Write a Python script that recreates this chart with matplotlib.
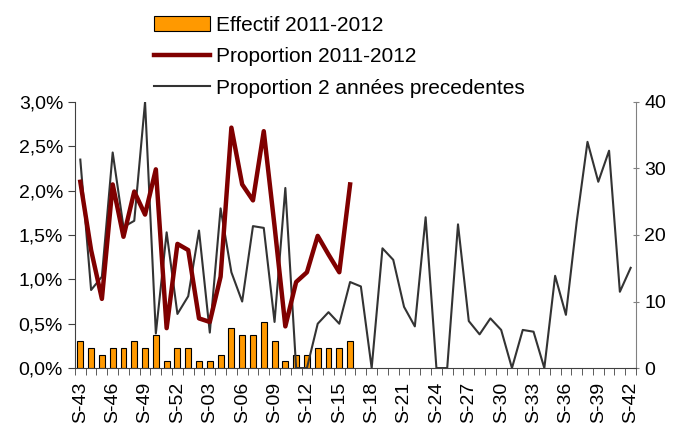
import numpy as np
import matplotlib.pyplot as plt
from matplotlib.ticker import FuncFormatter

plt.rcParams['font.family'] = ['Liberation Sans', 'DejaVu Sans']

# semaines S-43 (2011) ... S-42 (2012)
semaines = ['S-%02d' % s for s in list(range(43, 53)) + list(range(1, 43))]

# effectifs 2011-2012 (axe droit)
effectif = [4, 3, 2, 3, 3, 4, 3, 5, 1, 3, 3, 1, 1, 2, 6, 5, 5, 7, 4, 1,
            2, 2, 3, 3, 3, 4]

# proportion 2011-2012 (%)
prop_2011 = [2.10, 1.33, 0.78, 2.07, 1.48, 1.99, 1.73, 2.24, 0.45, 1.40,
             1.33, 0.56, 0.52, 1.03, 2.71, 2.07, 1.89, 2.67, 1.60, 0.47,
             0.97, 1.08, 1.49, 1.28, 1.08, 2.07]

# proportion des 2 annees precedentes (%)
prop_prec = [2.35, 0.88, 1.03, 2.43, 1.59, 1.66, 3.00, 0.39, 1.53, 0.61,
             0.81, 1.55, 0.40, 1.80, 1.08, 0.75, 1.60, 1.58, 0.52, 2.03,
             0.00, 0.00, 0.50, 0.63, 0.50, 0.97, 0.92, 0.00, 1.35, 1.22,
             0.69, 0.47, 1.70, 0.00, 0.00, 1.62, 0.53, 0.38, 0.56, 0.43,
             0.00, 0.43, 0.41, 0.00, 1.04, 0.60, 1.65, 2.55, 2.10, 2.45,
             0.86, 1.13]

x = np.arange(len(semaines))

fig = plt.figure(figsize=(6.81, 4.30), dpi=100)
ax = fig.add_axes([0.110, 0.144, 0.824, 0.619])
ax2 = ax.twinx()

# barres sur l'axe droit, lignes par dessus
b = ax2.bar(x[:len(effectif)], effectif, width=0.55, color='#FF9900',
            edgecolor='black', linewidth=0.8, label='Effectif 2011-2012')
ax2.set_ylim(0, 40)
ax2.set_yticks([0, 10, 20, 30, 40])

l1, = ax.plot(x[:len(prop_2011)], prop_2011, color='#800000', lw=3.2,
              label='Proportion 2011-2012', zorder=3)
l2, = ax.plot(x, prop_prec, color='#333333', lw=1.5,
              label='Proportion 2 années precedentes', zorder=2)
ax.set_zorder(ax2.get_zorder() + 1)
ax.patch.set_visible(False)

ax.set_ylim(0, 3.0)
ax.set_yticks(np.arange(0, 3.01, 0.5))
ax.yaxis.set_major_formatter(FuncFormatter(lambda v, p: ('%.1f%%' % v).replace('.', ',')))
ax.set_xlim(-0.5, len(semaines) - 0.5)

# etiquettes toutes les 3 semaines, graduations entre les categories
ax.set_xticks(x[::3])
ax.set_xticklabels(semaines[::3], rotation=90)
ax.set_xticks(np.arange(-0.5, len(semaines), 1), minor=True)
ax.tick_params(axis='x', which='major', length=0, pad=10, labelsize=14)
ax.tick_params(axis='x', which='minor', length=5, color='#404040', direction='out')
ax.tick_params(axis='y', length=5, labelsize=14, color='#404040')
ax2.tick_params(axis='y', length=5, direction='inout', labelsize=14, color='#808080')

for s in ['top', 'right']:
    ax.spines[s].set_visible(False)
for s in ['top', 'left', 'bottom']:
    ax2.spines[s].set_visible(False)
ax.spines['left'].set_color('#404040')
ax.spines['bottom'].set_color('#404040')
ax2.spines['right'].set_color('#808080')

fig.legend(handles=[b, l1, l2], loc='upper left', bbox_to_anchor=(0.203, 1.0),
           frameon=False, fontsize=15, handlelength=2.7, handletextpad=0.3,
           labelspacing=0.6, borderpad=0.25)

plt.savefig('out.png', dpi=100)
